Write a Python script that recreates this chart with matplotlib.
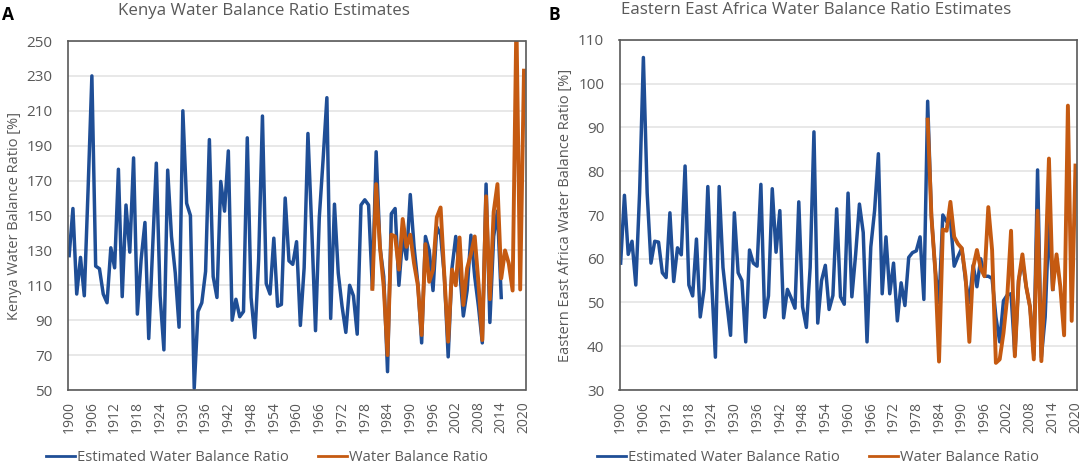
#!/usr/bin/env python3
import numpy as np
import matplotlib
matplotlib.use("Agg")
import matplotlib.pyplot as plt
from matplotlib.transforms import blended_transform_factory

plt.rcParams["font.family"] = ["Open Sans", "DejaVu Sans"]

BLUE = "#1f4e96"
ORANGE = "#c55a11"
GREY = "#595959"

# values
years_est = np.arange(1900, 2015)
kenya_years_obs = np.arange(1980, 2021)
eea_years_obs = np.arange(1981, 2021)

kenya_est = [
    127, 154, 105, 126, 104, 165, 230, 121, 119.5, 105,
    100, 131.5, 120, 176.5, 103.5, 156, 129, 183, 93.5, 125,
    146, 79.5, 130, 180, 104, 73, 176, 138, 117, 86,
    210, 157, 150, 51, 95, 100, 118, 193.5, 115, 103,
    169.5, 152.5, 187, 90, 102, 92, 95, 194.5, 103, 80,
    125, 207, 111, 105, 137, 98, 99, 160, 124, 122,
    135, 87, 120, 197, 143, 84, 149, 182, 217.5, 91,
    156.5, 117, 98, 83, 110, 104, 82, 156, 159, 156,
    108, 186.5, 132, 115, 60.5, 151, 154, 110, 138, 125,
    162, 132, 111, 77, 138, 130, 107, 143.5, 139, 115,
    69, 119.7, 138, 120, 92.4, 107, 138.7, 115, 97.7, 77,
    168, 88.7, 138, 152.6, 103,
]
kenya_obs = [
    108, 168, 132, 109, 70, 139, 138, 119, 148, 132,
    139, 122.5, 110, 81.5, 133.6, 112, 119, 149, 154.6, 115,
    77.7, 119, 110, 137.4, 98.7, 119.7, 128, 138, 111, 78.6,
    161, 102, 152, 168, 114, 130, 122.5, 107, 262, 107.6,
    233,
]

eea_est = [
    59, 74.5, 61, 64, 54, 75, 106, 75, 59, 64,
    63.8, 56.8, 55.7, 70.5, 54.8, 62.5, 60.9, 81.2, 54, 51.5,
    64.5, 46.7, 53, 76.5, 55, 37.5, 76.5, 58, 50, 42.5,
    70.5, 56.8, 55, 41, 62, 59, 58.3, 77, 46.6, 51.5,
    76, 61.5, 71, 46.5, 53, 51, 48.7, 73, 49, 44.3,
    58, 89, 45.3, 55, 58.5, 48.4, 51.6, 71.4, 51.3, 49.6,
    75, 51.3, 61, 72.5, 66, 41, 62.7, 71, 84, 52,
    65, 52, 59, 45.8, 54.5, 49.3, 60.3, 61.4, 61.8, 65,
    50.7, 96, 69.6, 57.4, 50, 70, 68.5, 69, 58.3, 60.5,
    62.4, 55, 50, 58.5, 53.6, 60, 56, 56, 55.5, 46.7,
    41, 50.4, 51.7, 52, 38, 55, 59.7, 53.6, 49, 38,
    80.3, 37.5, 46.7, 68.9, 53,
]
eea_obs = [
    91.8, 69.6, 57.4, 36.5, 66.7, 66.4, 73, 65, 63.4,
    62.4, 55.9, 41, 58, 62, 57.8, 56, 71.8, 62, 36.2,
    37, 43, 51.3, 66.4, 37.7, 55, 61, 53.6, 49, 37,
    71, 36.6, 56.6, 82.9, 53, 61, 53.6, 42.5, 95, 45.8,
    81.3,
]

x_ticks = np.arange(1900, 2021, 6)
kenya_ticks = np.arange(50, 251, 20)
eea_ticks = np.arange(30, 111, 10)

W, H = 1084, 465


def draw_panel(rect, est, years_obs, obs, yticks, ylabel, label_x):
    ax = plt.gcf().add_axes([rect[0] / W, 1 - rect[3] / H, (rect[2] - rect[0]) / W, (rect[3] - rect[1]) / H])
    ax.plot(years_est, est, color=BLUE, lw=2.5, solid_joinstyle="round", label="Estimated Water Balance Ratio")
    ax.plot(years_obs, obs, color=ORANGE, lw=2.8, solid_joinstyle="round", label="Water Balance Ratio")
    ax.set_xlim(1899.7, 2020.4)
    ax.set_ylim(yticks[0], yticks[-1])
    ax.set_xticks(x_ticks)
    ax.set_xticklabels([str(y) for y in x_ticks], rotation=90, fontsize=10, color=GREY)
    ax.set_yticks(yticks)
    ax.set_yticklabels([str(v) for v in yticks], fontsize=11, color=GREY)
    ax.tick_params(length=0)
    ax.tick_params(axis="y", pad=11)
    ax.tick_params(axis="x", pad=8)
    ax.grid(axis="y", color="#e4e4e4", lw=1.2)
    ax.set_axisbelow(True)
    for s in ax.spines.values():
        s.set_color(GREY)
        s.set_linewidth(1.2)
    ax.set_ylabel(ylabel, fontsize=10.5, color=GREY)
    ax.yaxis.set_label_coords(label_x / W, 0.5, transform=blended_transform_factory(plt.gcf().transFigure, ax.transAxes))
    return ax


fig = plt.figure(figsize=(W / 100, H / 100), dpi=100)

ax_a = draw_panel((68, 41, 525.5, 390), kenya_est, kenya_years_obs, kenya_obs, kenya_ticks,
                  "Kenya Water Balance Ratio [%]", 22)
ax_b = draw_panel((619.5, 40, 1077, 390), eea_est, eea_years_obs, eea_obs, eea_ticks,
                  "Eastern East Africa Water Balance Ratio [%]", 573)

for ax, x0 in ((ax_a, 46 / W), (ax_b, 597 / W)):
    leg = ax.legend(
        loc="center left", bbox_to_anchor=(x0, 1 - 457.5 / H), bbox_transform=fig.transFigure,
        ncol=2, frameon=False, fontsize=10.6, labelcolor=GREY,
        handlelength=1.95, handletextpad=0.15, columnspacing=2.0, borderpad=0, borderaxespad=0,
    )
    for line in leg.get_lines():
        line.set_linewidth(2.0)

fig.text(118 / W, 1 - 11 / H, "Kenya Water Balance Ratio Estimates", fontsize=12.2, color=GREY, va="center")
fig.text(621 / W, 1 - 10 / H, "Eastern East Africa Water Balance Ratio Estimates", fontsize=12.2, color=GREY, va="center")
fig.text(2 / W, 1 - 15 / H, "A", fontsize=12.5, fontweight="bold", color="black", va="center")
fig.text(549 / W, 1 - 15 / H, "B", fontsize=12.5, fontweight="bold", color="black", va="center")

fig.savefig("out.png", dpi=100)
